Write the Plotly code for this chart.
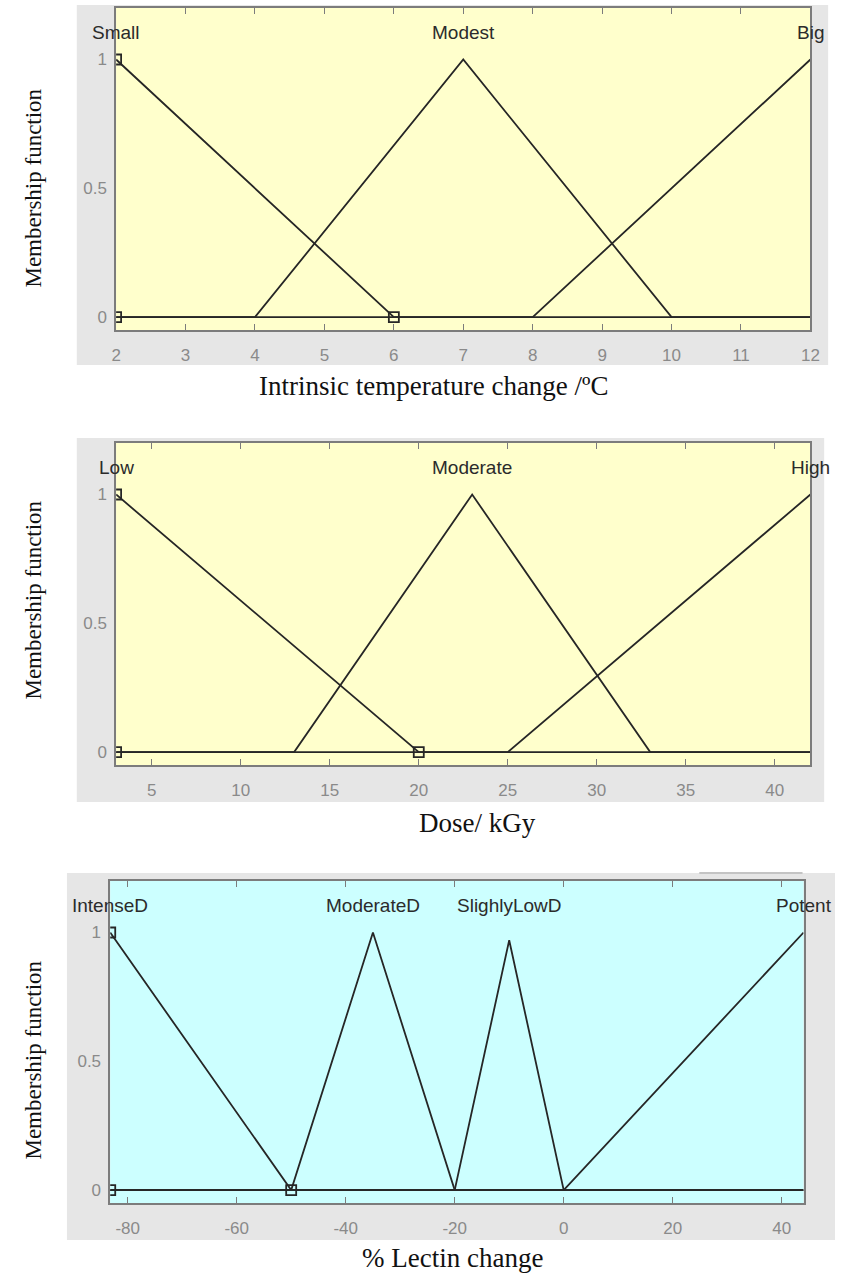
import plotly.graph_objects as go

W, H = 844, 1279

# ---- Intrinsic temperature change ----
temp_range = [2, 12]
temp_ticks = [2, 3, 4, 5, 6, 7, 8, 9, 10, 11, 12]
temp_tick_text = ["2", "3", "4", "5", "6", "7", "8", "9", "10", "11", "12"]
temp_names = ["Small", "Modest", "Big"]
temp_peaks = [2, 7, 12]
temp_small_x = [2, 6, 12]
temp_small_y = [1, 0, 0]
temp_modest_x = [2, 4, 7, 10, 12]
temp_modest_y = [0, 0, 1, 0, 0]
temp_big_x = [2, 8, 12]
temp_big_y = [0, 0, 1]
temp_pts_x = [2, 2, 6]
temp_pts_y = [1, 0, 0]

# ---- Dose ----
dose_range = [3, 42]
dose_ticks = [5, 10, 15, 20, 25, 30, 35, 40]
dose_tick_text = ["5", "10", "15", "20", "25", "30", "35", "40"]
dose_names = ["Low", "Moderate", "High"]
dose_peaks = [3, 23, 42]
dose_low_x = [3, 20, 42]
dose_low_y = [1, 0, 0]
dose_mod_x = [3, 13, 23, 33, 42]
dose_mod_y = [0, 0, 1, 0, 0]
dose_high_x = [3, 25, 42]
dose_high_y = [0, 0, 1]
dose_pts_x = [3, 3, 20]
dose_pts_y = [1, 0, 0]

# ---- % Lectin change ----
lect_range = [-83.2, 44]
lect_ticks = [-80, -60, -40, -20, 0, 20, 40]
lect_tick_text = ["-80", "-60", "-40", "-20", "0", "20", "40"]
lect_names = ["IntenseD", "ModerateD", "SlighlyLowD", "Potent"]
lect_peaks = [-83.2, -35, -10, 44]
lect_int_x = [-83.2, -50, 44]
lect_int_y = [1, 0, 0]
lect_mod_x = [-83.2, -50, -35, -20, 44]
lect_mod_y = [0, 0, 1, 0, 0]
lect_low_x = [-83.2, -20, -10, 0, 44]
lect_low_y = [0, 0, 0.97, 0, 0]
lect_pot_x = [-83.2, 0, 44]
lect_pot_y = [0, 0, 1]
lect_pts_x = [-83.2, -83.2, -50]
lect_pts_y = [1, 0, 0]

y_range = [-0.05, 1.2]
y_ticks = [0, 0.5, 1]
y_labels = ["0", "0.5", "1"]


def px(x):
    return x / W


def py(y):
    return 1 - y / H


LINE = "#262626"
FRAME = "#7c7c7c"
TICKFONT = dict(family="Liberation Sans, Arial", size=17, color="#8a8a8a")
LABFONT = dict(family="Liberation Sans, Arial", size=19, color="#2b2b2b")
SERIF = "Liberation Serif, Times New Roman"

panels = [
    dict(ax="", rng=temp_range, ticks=temp_ticks, ticktext=temp_tick_text, bg="#ffffcc",
         curves=[(temp_small_x, temp_small_y), (temp_modest_x, temp_modest_y), (temp_big_x, temp_big_y)],
         pts=(temp_pts_x, temp_pts_y), names=temp_names, peaks=temp_peaks,
         xdom=(113, 819), ydom=(8, 330), grey=(73, 5, 837, 365),
         title="Intrinsic temperature change /ºC", tpos=(436, 386), ytpos=188),
    dict(ax="2", rng=dose_range, ticks=dose_ticks, ticktext=dose_tick_text, bg="#ffffcc",
         curves=[(dose_low_x, dose_low_y), (dose_mod_x, dose_mod_y), (dose_high_x, dose_high_y)],
         pts=(dose_pts_x, dose_pts_y), names=dose_names, peaks=dose_peaks,
         xdom=(113, 819), ydom=(443, 765), grey=(73, 438, 833, 802),
         title="Dose/ kGy", tpos=(480, 823), ytpos=600),
    dict(ax="3", rng=lect_range, ticks=lect_ticks, ticktext=lect_tick_text, bg="#ccffff",
         curves=[(lect_int_x, lect_int_y), (lect_mod_x, lect_mod_y), (lect_low_x, lect_low_y), (lect_pot_x, lect_pot_y)],
         pts=(lect_pts_x, lect_pts_y), names=lect_names, peaks=lect_peaks,
         xdom=(107, 812), ydom=(881, 1203), grey=(63, 873, 844, 1240),
         title="% Lectin change", tpos=(455, 1258), ytpos=1060),
]

fig = go.Figure()
shapes = []
annotations = []
layout = {}

for p in panels:
    xa, ya = "x" + p["ax"], "y" + p["ax"]
    for cx, cy in p["curves"]:
        fig.add_trace(go.Scatter(x=cx, y=cy, mode="lines", xaxis=xa, yaxis=ya,
                                 line=dict(color=LINE, width=1.8), showlegend=False,
                                 hoverinfo="skip"))
    fig.add_trace(go.Scatter(x=p["pts"][0], y=p["pts"][1], mode="markers", xaxis=xa, yaxis=ya,
                             cliponaxis=True,
                             marker=dict(symbol="square-open", size=10, color=LINE,
                                         line=dict(width=1.8, color=LINE)),
                             showlegend=False, hoverinfo="skip"))

    # grey figure-window backdrop
    g = p["grey"]
    shapes.append(dict(type="rect", xref="paper", yref="paper", layer="below",
                       x0=px(g[0]), x1=px(g[2]), y0=py(g[3]), y1=py(g[1]),
                       fillcolor="#e6e6e6", line=dict(width=0)))
    # coloured plotting area
    shapes.append(dict(type="rect", xref="paper", yref="paper", layer="below",
                       x0=px(p["xdom"][0]), x1=px(p["xdom"][1]),
                       y0=py(p["ydom"][1]), y1=py(p["ydom"][0]),
                       fillcolor=p["bg"], line=dict(width=0)))

    axis_common = dict(showgrid=False, zeroline=False, showline=True, mirror="ticks",
                       linecolor=FRAME, linewidth=1.5, tickfont=TICKFONT)
    layout["xaxis" + p["ax"]] = dict(
        axis_common, domain=[px(p["xdom"][0]), px(p["xdom"][1])], range=p["rng"],
        tickvals=p["ticks"], ticktext=p["ticktext"], ticks="inside", ticklen=6,
        tickcolor=FRAME, ticklabelstandoff=9, anchor=ya)
    layout["yaxis" + p["ax"]] = dict(
        axis_common, domain=[py(p["ydom"][1]), py(p["ydom"][0])], range=y_range,
        tickvals=y_ticks, ticktext=y_labels, ticks="", ticklabelstandoff=4, anchor=xa)

    for name, pk in zip(p["names"], p["peaks"]):
        annotations.append(dict(text=name, x=pk, y=1.105, xref=xa, yref=ya,
                                showarrow=False, font=LABFONT, xanchor="center", yanchor="middle"))

    annotations.append(dict(text=p["title"], x=px(p["tpos"][0]), y=py(p["tpos"][1]),
                            xref="paper", yref="paper", showarrow=False,
                            font=dict(family=SERIF, size=27, color="#111111"),
                            xanchor="center", yanchor="middle"))
    annotations.append(dict(text="Membership function", x=px(28), y=py(p["ytpos"]),
                            xref="paper", yref="paper", showarrow=False, textangle=-90,
                            font=dict(family=SERIF, size=23, color="#111111"),
                            xanchor="center", yanchor="middle"))

# faint rule above the lectin panel
shapes.append(dict(type="line", xref="paper", yref="paper", x0=px(706), x1=px(811),
                   y0=py(873), y1=py(873), line=dict(color="#c4c4c4", width=2)))

fig.update_layout(
    width=W, height=H, margin=dict(l=0, r=0, t=0, b=0),
    paper_bgcolor="white", plot_bgcolor="rgba(0,0,0,0)",
    shapes=shapes, annotations=annotations, **layout)

fig.write_html("out.html")
